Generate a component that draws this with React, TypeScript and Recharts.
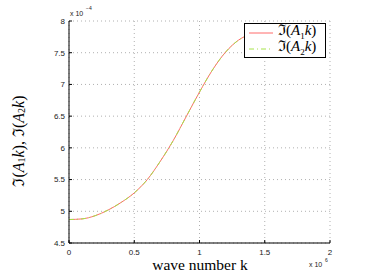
import React from "react";
import { CartesianGrid, Line, LineChart, XAxis, YAxis } from "recharts";

// wave number k (x 10^6) and imaginary parts (x 10^-4)
const waveNumbers = [0, 0.1, 0.2, 0.3, 0.4, 0.5, 0.6, 0.7, 0.8, 0.9, 1.0, 1.1, 1.2, 1.3, 1.4, 1.5];
const imA1 = [4.87, 4.88, 4.93, 5.02, 5.14, 5.29, 5.5, 5.79, 6.12, 6.5, 6.88, 7.23, 7.51, 7.7, 7.8, 7.85];
const imA2 = [4.87, 4.88, 4.93, 5.02, 5.14, 5.29, 5.5, 5.79, 6.12, 6.5, 6.88, 7.23, 7.51, 7.7, 7.8, 7.85];
const xTicks = [0, 0.5, 1, 1.5, 2];
const yTicks = [4.5, 5, 5.5, 6, 6.5, 7, 7.5, 8];
const seriesNames = ["1", "2"];

const data = waveNumbers.map((k, i) => ({ k, a1: imA1[i], a2: imA2[i] }));

const serif = "'Liberation Serif', 'DejaVu Serif', serif";
const sans = "'Liberation Sans', Arial, sans-serif";
const red = "#ff6a6a";
const green = "#a6e34a";
const dash = "5 3 1 3";

function ImLabel({ n }: { n: string }) {
  return (
    <span>
      ℑ(<i>A</i>
      <sub style={{ fontSize: 9 }}>{n}</sub>
      <i>k</i>)
    </span>
  );
}

export default function App() {
  return (
    <div style={{ position: "absolute", left: 0, top: 0, width: 365, height: 273, background: "#fff" }}>
      <LineChart width={365} height={273} data={data} margin={{ top: 21, right: 35, bottom: 10, left: 29 }}>
        <CartesianGrid stroke="#b0b0b0" strokeDasharray="1 3" />
        <XAxis
          dataKey="k"
          type="number"
          domain={[0, 2]}
          ticks={xTicks}
          height={20}
          stroke="#000"
          tickSize={-3}
          tickMargin={9}
          tick={{ fontSize: 8, fill: "#222", fontFamily: sans }}
          label={{
            content: () => (
              <g>
                <text x={200} y={270} textAnchor="middle" fontFamily={serif} fontSize={15.5} fill="#000">wave number k</text>
                <text x={309} y={267} fontFamily={sans} fontSize={7} fill="#222">x 10</text>
                <text x={325} y={262} fontFamily={sans} fontSize={5} fill="#222">6</text>
              </g>
            ),
          }}
        />
        <XAxis xAxisId="top" orientation="top" dataKey="k" type="number" domain={[0, 2]} ticks={xTicks} height={0} stroke="#000" tick={false} tickSize={-3} />
        <YAxis
          type="number"
          domain={[4.5, 8]}
          ticks={yTicks}
          width={40}
          stroke="#000"
          tickSize={-3}
          tickMargin={7}
          interval={0}
          tick={{ fontSize: 8, fill: "#222", fontFamily: sans }}
          label={{
            content: () => (
              <g>
                <text x={18} y={141} transform="rotate(-90 18 141)" textAnchor="middle" dominantBaseline="central" fontFamily={serif} fontSize={16} fill="#000">
                  ℑ(<tspan fontStyle="italic">A</tspan><tspan fontSize={10} dy={3}>1</tspan><tspan fontStyle="italic" dy={-3}>k</tspan>), ℑ(<tspan fontStyle="italic">A</tspan><tspan fontSize={10} dy={3}>2</tspan><tspan fontStyle="italic" dy={-3}>k</tspan>)
                </text>
                <text x={70} y={16} fontFamily={sans} fontSize={7} fill="#222">x 10</text>
                <text x={86} y={10} fontFamily={sans} fontSize={5} fill="#222">−4</text>
              </g>
            ),
          }}
        />
        <YAxis yAxisId="right" orientation="right" domain={[4.5, 8]} ticks={yTicks} width={0} stroke="#000" tick={false} tickSize={-3} />
        <Line dataKey="a1" type="monotone" stroke={red} strokeWidth={1} dot={false} isAnimationActive={false} />
        <Line dataKey="a2" type="monotone" stroke={green} strokeWidth={1} strokeDasharray={dash} dot={false} isAnimationActive={false} />
      </LineChart>
      <div
        style={{
          position: "absolute", left: 244, top: 23, width: 82, height: 35, boxSizing: "border-box",
          background: "#fff", border: "1px solid #000", paddingTop: 1,
        }}
      >
        {seriesNames.map((n, i) => (
          <div key={n} style={{ display: "flex", alignItems: "center", height: 16 }}>
            <svg width={29} height={10} style={{ marginLeft: 4 }}>
              <line x1={0} x2={24} y1={5} y2={5} stroke={i === 0 ? red : green} strokeWidth={1} strokeDasharray={i === 1 ? dash : undefined} />
            </svg>
            <span style={{ fontFamily: serif, fontSize: 15, lineHeight: "16px", color: "#000" }}>
              <ImLabel n={n} />
            </span>
          </div>
        ))}
      </div>
    </div>
  );
}
